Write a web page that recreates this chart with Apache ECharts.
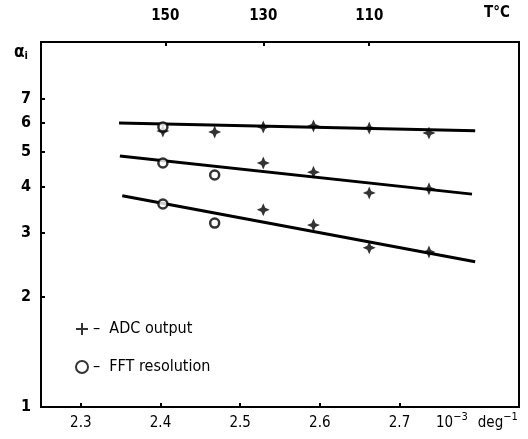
<!DOCTYPE html>
<html>
<head>
<meta charset="utf-8">
<script src="https://cdn.jsdelivr.net/npm/echarts@6/dist/echarts.min.js"></script>
<style>
  html, body { margin: 0; padding: 0; background: #fff; }
  #chart { width: 528px; height: 439px; }
</style>
</head>
<body>
<div id="chart"></div>
<script>
// 1/T axis (10^-3 deg^-1) and log alpha axis
var xTicks = [2.3, 2.4, 2.5, 2.6, 2.7];
var yTicks = [1, 2, 3, 4, 5, 6, 7];
var tempLabels = [150, 130, 110];
var tempPos = [2.406, 2.529, 2.662];

var adcPoints = [
  [2.403, 5.70], [2.468, 5.67], [2.529, 5.85], [2.592, 5.89], [2.662, 5.81], [2.737, 5.63],
  [2.529, 4.66], [2.592, 4.40], [2.662, 3.86], [2.737, 3.96],
  [2.529, 3.47], [2.592, 3.15], [2.662, 2.73], [2.737, 2.66]
];
var fftPoints = [
  [2.403, 5.85],
  [2.403, 4.66], [2.468, 4.32],
  [2.403, 3.60], [2.468, 3.19]
];
var fitTop = [[2.348, 6.00], [2.795, 5.71]];
var fitMid = [[2.349, 4.87], [2.791, 3.83]];
var fitLow = [[2.352, 3.79], [2.795, 2.50]];

var font = 'DejaVu Sans Condensed, DejaVu Sans, sans-serif';
var star = 'path://M0,-10 L3,-3 L10,0 L3,3 L0,10 L-3,3 L-10,0 L-3,-3 Z';
var plus = 'path://M-1,-6 L1,-6 L1,-1 L6,-1 L6,1 L1,1 L1,6 L-1,6 L-1,1 L-6,1 L-6,-1 L-1,-1 Z';

function fitLine(data) {
  return {
    type: 'line',
    data: data,
    showSymbol: false,
    silent: true,
    lineStyle: { color: '#000', width: 3 },
    z: 1
  };
}

var chart = echarts.init(document.getElementById('chart'));
chart.setOption({
  animation: false,
  grid: {
    left: 41, right: 9, top: 42, bottom: 32,
    show: true, borderColor: '#000', borderWidth: 2
  },
  legend: {
    left: 70, top: 316,
    orient: 'vertical',
    itemGap: 22,
    itemWidth: 12, itemHeight: 12,
    formatter: function (name) { return '\u2013  ' + name; },
    textStyle: { color: '#000', fontSize: 16, fontFamily: font },
    data: [
      { name: 'ADC output', icon: plus, itemStyle: { color: '#000', borderWidth: 0 } },
      { name: 'FFT resolution', icon: 'circle' }
    ]
  },
  xAxis: [
    {
      type: 'value', min: 2.25, max: 2.85,
      axisLine: { show: true, lineStyle: { color: '#000', width: 2 } },
      axisTick: { show: true, customValues: xTicks, length: 4, inside: true, lineStyle: { color: '#000', width: 2 } },
      axisLabel: {
        customValues: xTicks, color: '#000', fontSize: 15, fontFamily: font, margin: 9,
        formatter: function (v) { return v.toFixed(1); }
      },
      splitLine: { show: false }
    },
    {
      type: 'value', min: 2.25, max: 2.85, position: 'top',
      axisLine: { show: true, lineStyle: { color: '#000', width: 2 } },
      axisTick: { show: true, customValues: tempPos, length: 4, inside: true, lineStyle: { color: '#000', width: 2 } },
      axisLabel: {
        customValues: tempPos, color: '#000', fontSize: 15, fontWeight: 'bold', fontFamily: font, margin: 18,
        formatter: function (v) {
          var i = tempPos.indexOf(v);
          return i >= 0 ? String(tempLabels[i]) : '';
        }
      },
      splitLine: { show: false }
    }
  ],
  yAxis: {
    type: 'log', logBase: 10, min: 1, max: 10,
    axisLine: { show: true, lineStyle: { color: '#000', width: 2 } },
    axisTick: { show: true, customValues: yTicks, length: 4, inside: true, lineStyle: { color: '#000', width: 2 } },
    minorTick: { show: false },
    axisLabel: {
      customValues: yTicks, color: '#000', fontSize: 16, fontWeight: 'bold', fontFamily: font, margin: 10
    },
    splitLine: { show: false }
  },
  graphic: [
    {
      type: 'text', left: 14, top: 44,
      style: {
        text: '{a|\u03b1}{s|i}',
        rich: {
          a: { fontSize: 17, fontWeight: 'bold', fontFamily: font, fill: '#000' },
          s: { fontSize: 11, fontWeight: 'bold', fontFamily: font, fill: '#000', padding: [8, 0, 0, 0] }
        }
      }
    },
    {
      type: 'text', left: 484, top: 6,
      style: { text: 'T\u00b0C', fontSize: 15, fontWeight: 'bold', fontFamily: font, fill: '#000' }
    },
    {
      type: 'text', left: 436, top: 412,
      style: {
        text: '{n|10}{e|\u22123}   {n|deg}{e|\u22121}',
        rich: {
          n: { fontSize: 15, fontFamily: font, fill: '#000', padding: [6, 0, 0, 0] },
          e: { fontSize: 11, fontFamily: font, fill: '#000', padding: [0, 0, 6, 0] }
        }
      }
    }
  ],
  series: [
    fitLine(fitTop),
    fitLine(fitMid),
    fitLine(fitLow),
    {
      name: 'ADC output',
      type: 'scatter',
      data: adcPoints,
      symbol: star,
      symbolSize: 13,
      itemStyle: { color: '#000' },
      z: 3
    },
    {
      name: 'FFT resolution',
      type: 'scatter',
      data: fftPoints,
      symbol: 'circle',
      symbolSize: 9,
      itemStyle: { color: '#fff', borderColor: '#000', borderWidth: 2.5 },
      z: 4
    }
  ]
});
</script>
</body>
</html>
